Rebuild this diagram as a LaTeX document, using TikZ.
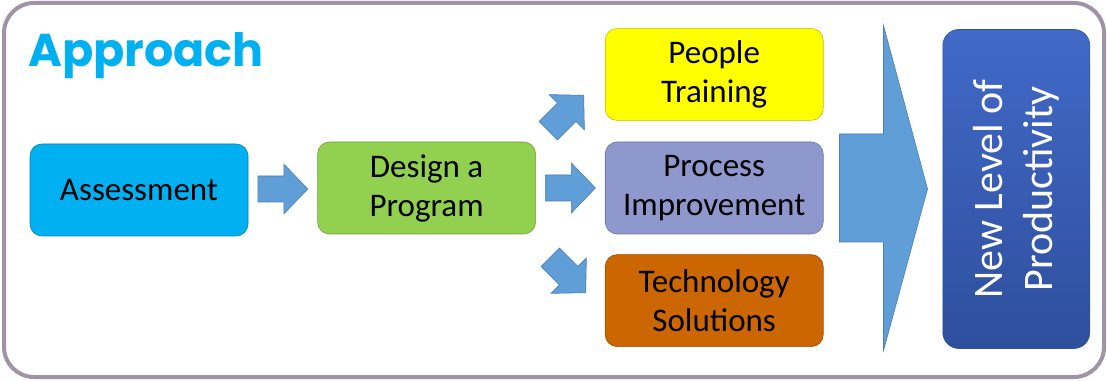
\documentclass[tikz,border=0pt]{standalone}
\usepackage{fontspec}
\setmainfont{Carlito}
\newfontfamily\titlefont{Poppins}
\usepackage{tikz}
\usetikzlibrary{positioning,calc}

\definecolor{framegray}{HTML}{9F93A6}
\definecolor{titlecyan}{HTML}{00B0F0}
\definecolor{assesscyan}{HTML}{00B0F0}
\definecolor{designgreen}{HTML}{92D050}
\definecolor{peopleyellow}{HTML}{FFFF00}
\definecolor{processlav}{HTML}{8E98CC}
\definecolor{techorange}{HTML}{CC6600}
\definecolor{arrowblue}{HTML}{5F9ED6}
\definecolor{arrowedge}{HTML}{4A7EBB}
\definecolor{leveltop}{HTML}{4169C8}
\definecolor{levelbot}{HTML}{2E4F9C}

\tikzset{
  stepbox/.style={rectangle, rounded corners=12pt, draw=#1!75!black, fill=#1,
    line width=0.6pt, minimum width=218pt, minimum height=92pt,
    align=center, font=\fontsize{33}{39}\selectfont},
  arrowshape/.style={fill=arrowblue, draw=arrowedge, line width=0.6pt},
  blockarrow/.pic={
    \draw[arrowshape] (-25,-13) -- (1,-13) -- (1,-25) -- (25,0) -- (1,25)
      -- (1,13) -- (-25,13) -- cycle;
  }
}

\begin{document}
\begin{tikzpicture}[x=1pt, y=1pt]
  \useasboundingbox (0,0) rectangle (1107,380);
  % outer frame
  \draw[framegray, line width=4pt, rounded corners=30pt] (4,3) rectangle (1104,377);
  \node (title) [anchor=base west, inner sep=0pt, text=titlecyan,
    font=\titlefont\bfseries\fontsize{46}{46}\selectfont] at (28,313) {Approach};

  \node (assess) [stepbox=assesscyan] at (139,190) {Assessment};
  \node (design) [stepbox=designgreen, right=69pt of assess, yshift=2pt] {Design a\\Program};
  \node (process) [stepbox=processlav, right=69pt of design] {Process\\Improvement};
  \node (people) [stepbox=peopleyellow, above=21pt of process] {People\\Training};
  \node (tech) [stepbox=techorange, below=20pt of process] {Technology\\Solutions};
  \node (level) [rectangle, rounded corners=16pt, draw=levelbot, line width=0.6pt,
    top color=leveltop, bottom color=levelbot, minimum width=147pt,
    minimum height=319pt, right=119pt of process, yshift=-1pt] {};
  \node [rotate=90, text=white, align=center,
    font=\fontsize{42}{50}\selectfont] at (level.center) {New Level of\\Productivity};

  % block arrows
  \pic at ($(assess.east)!0.5!(design.west)$) {blockarrow};
  \pic at ($(design.east)!0.5!(process.west)$) {blockarrow};
  \pic[rotate=45] at (566,267) {blockarrow};
  \pic[rotate=-45] at (568,105) {blockarrow};
  \draw[arrowshape] ($(process.east)+(16,54)$) -- ++(44,0) -- ++(0,108.5)
    -- ($(level.west)+(-15,0)$) -- ($(process.east)+(60,-162.5)$)
    -- ++(0,108.5) -- ++(-44,0) -- cycle;
\end{tikzpicture}
\end{document}
